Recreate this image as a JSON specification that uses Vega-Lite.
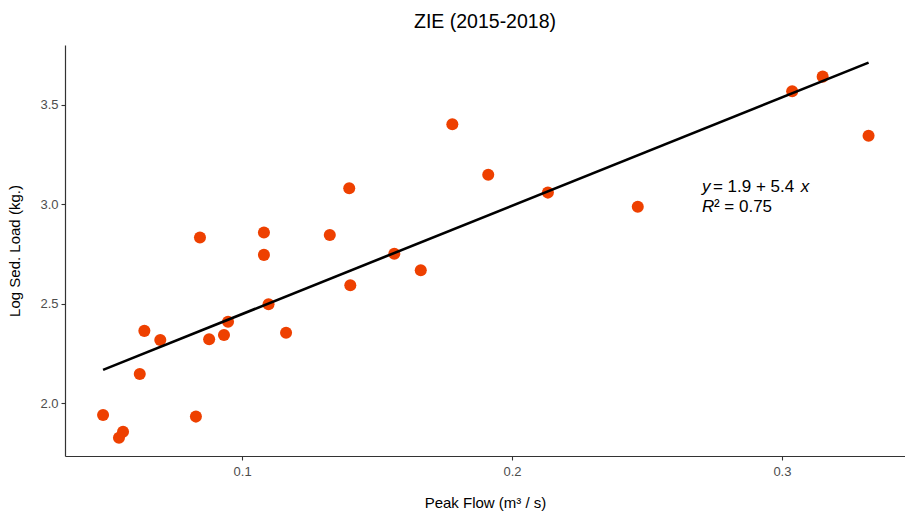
{
  "$schema": "https://vega.github.io/schema/vega-lite/v6.json",
  "autosize": {"type": "none"},
  "padding": {"left": 65, "top": 45, "right": 0, "bottom": 56},
  "width": 840,
  "height": 411,
  "background": "white",
  "title": {"text": "ZIE (2015-2018)", "anchor": "middle", "frame": "group", "fontSize": 19.5, "font": "Liberation Sans", "fontWeight": "normal", "color": "#000000", "offset": 13},
  "config": {
    "view": {"stroke": null},
    "font": "Liberation Sans",
    "axis": {
      "grid": false,
      "domainColor": "#333333",
      "domainWidth": 1.2,
      "tickColor": "#333333",
      "tickSize": 4,
      "tickWidth": 1.1,
      "labelColor": "#4D4D4D",
      "labelFontSize": 13,
      "labelFont": "Liberation Sans",
      "titleFont": "Liberation Sans",
      "titleFontSize": 15,
      "titleFontWeight": "normal",
      "titleColor": "#000000"
    }
  },
  "data": {
    "values": [
      {"flow": 0.0485, "load": 1.941},
      {"flow": 0.0544, "load": 1.827},
      {"flow": 0.0559, "load": 1.857},
      {"flow": 0.0621, "load": 2.147},
      {"flow": 0.0638, "load": 2.364},
      {"flow": 0.0697, "load": 2.318},
      {"flow": 0.0829, "load": 1.933},
      {"flow": 0.0844, "load": 2.833},
      {"flow": 0.0878, "load": 2.322},
      {"flow": 0.0933, "load": 2.343},
      {"flow": 0.0948, "load": 2.410},
      {"flow": 0.1081, "load": 2.858},
      {"flow": 0.1081, "load": 2.746},
      {"flow": 0.1098, "load": 2.498},
      {"flow": 0.1163, "load": 2.355},
      {"flow": 0.1325, "load": 2.846},
      {"flow": 0.1397, "load": 3.081},
      {"flow": 0.1401, "load": 2.593},
      {"flow": 0.1564, "load": 2.752},
      {"flow": 0.1662, "load": 2.669},
      {"flow": 0.1779, "load": 3.403},
      {"flow": 0.1912, "load": 3.149},
      {"flow": 0.2133, "load": 3.059},
      {"flow": 0.2466, "load": 2.988},
      {"flow": 0.3038, "load": 3.569},
      {"flow": 0.3151, "load": 3.642},
      {"flow": 0.3321, "load": 3.345}
    ]
  },
  "layer": [
    {
      "mark": {"type": "point", "filled": true, "opacity": 1, "color": "#EE4000", "size": 145},
      "encoding": {
        "x": {"field": "flow", "type": "quantitative", "scale": {"domain": [0.0344, 0.3456], "nice": false, "zero": false},
              "axis": {"values": [0.1, 0.2, 0.3], "format": ".1f", "title": "Peak Flow (m³ / s)", "titlePadding": 17, "labelPadding": 5}},
        "y": {"field": "load", "type": "quantitative", "scale": {"domain": [1.735, 3.801], "nice": false, "zero": false},
              "axis": {"values": [2.0, 2.5, 3.0, 3.5], "format": ".1f", "title": "Log Sed. Load (kg.)", "titlePadding": 17, "labelPadding": 3}}
      }
    },
    {
      "transform": [{"regression": "load", "on": "flow"}],
      "mark": {"type": "line", "color": "#000000", "strokeWidth": 2.6},
      "encoding": {
        "x": {"field": "flow", "type": "quantitative"},
        "y": {"field": "load", "type": "quantitative"}
      }
    },
    {
      "data": {"values": [{}]},
      "mark": {"type": "text", "text": "y", "fontStyle": "italic", "fontSize": 17, "align": "left", "baseline": "alphabetic", "color": "#000000"},
      "encoding": {"x": {"datum": 0.27037}, "y": {"datum": 3.062}}
    },
    {
      "data": {"values": [{}]},
      "mark": {"type": "text", "text": "= 1.9 + 5.4", "fontSize": 17, "align": "left", "baseline": "alphabetic", "color": "#000000"},
      "encoding": {"x": {"datum": 0.27444}, "y": {"datum": 3.062}}
    },
    {
      "data": {"values": [{}]},
      "mark": {"type": "text", "text": "x", "fontStyle": "italic", "fontSize": 17, "align": "left", "baseline": "alphabetic", "color": "#000000"},
      "encoding": {"x": {"datum": 0.3070}, "y": {"datum": 3.062}}
    },
    {
      "data": {"values": [{}]},
      "mark": {"type": "text", "text": "R", "fontStyle": "italic", "fontSize": 17, "align": "left", "baseline": "alphabetic", "color": "#000000"},
      "encoding": {"x": {"datum": 0.27037}, "y": {"datum": 2.962}}
    },
    {
      "data": {"values": [{}]},
      "mark": {"type": "text", "text": "² = 0.75", "fontSize": 17, "align": "left", "baseline": "alphabetic", "color": "#000000"},
      "encoding": {"x": {"datum": 0.27481}, "y": {"datum": 2.962}}
    }
  ]
}
